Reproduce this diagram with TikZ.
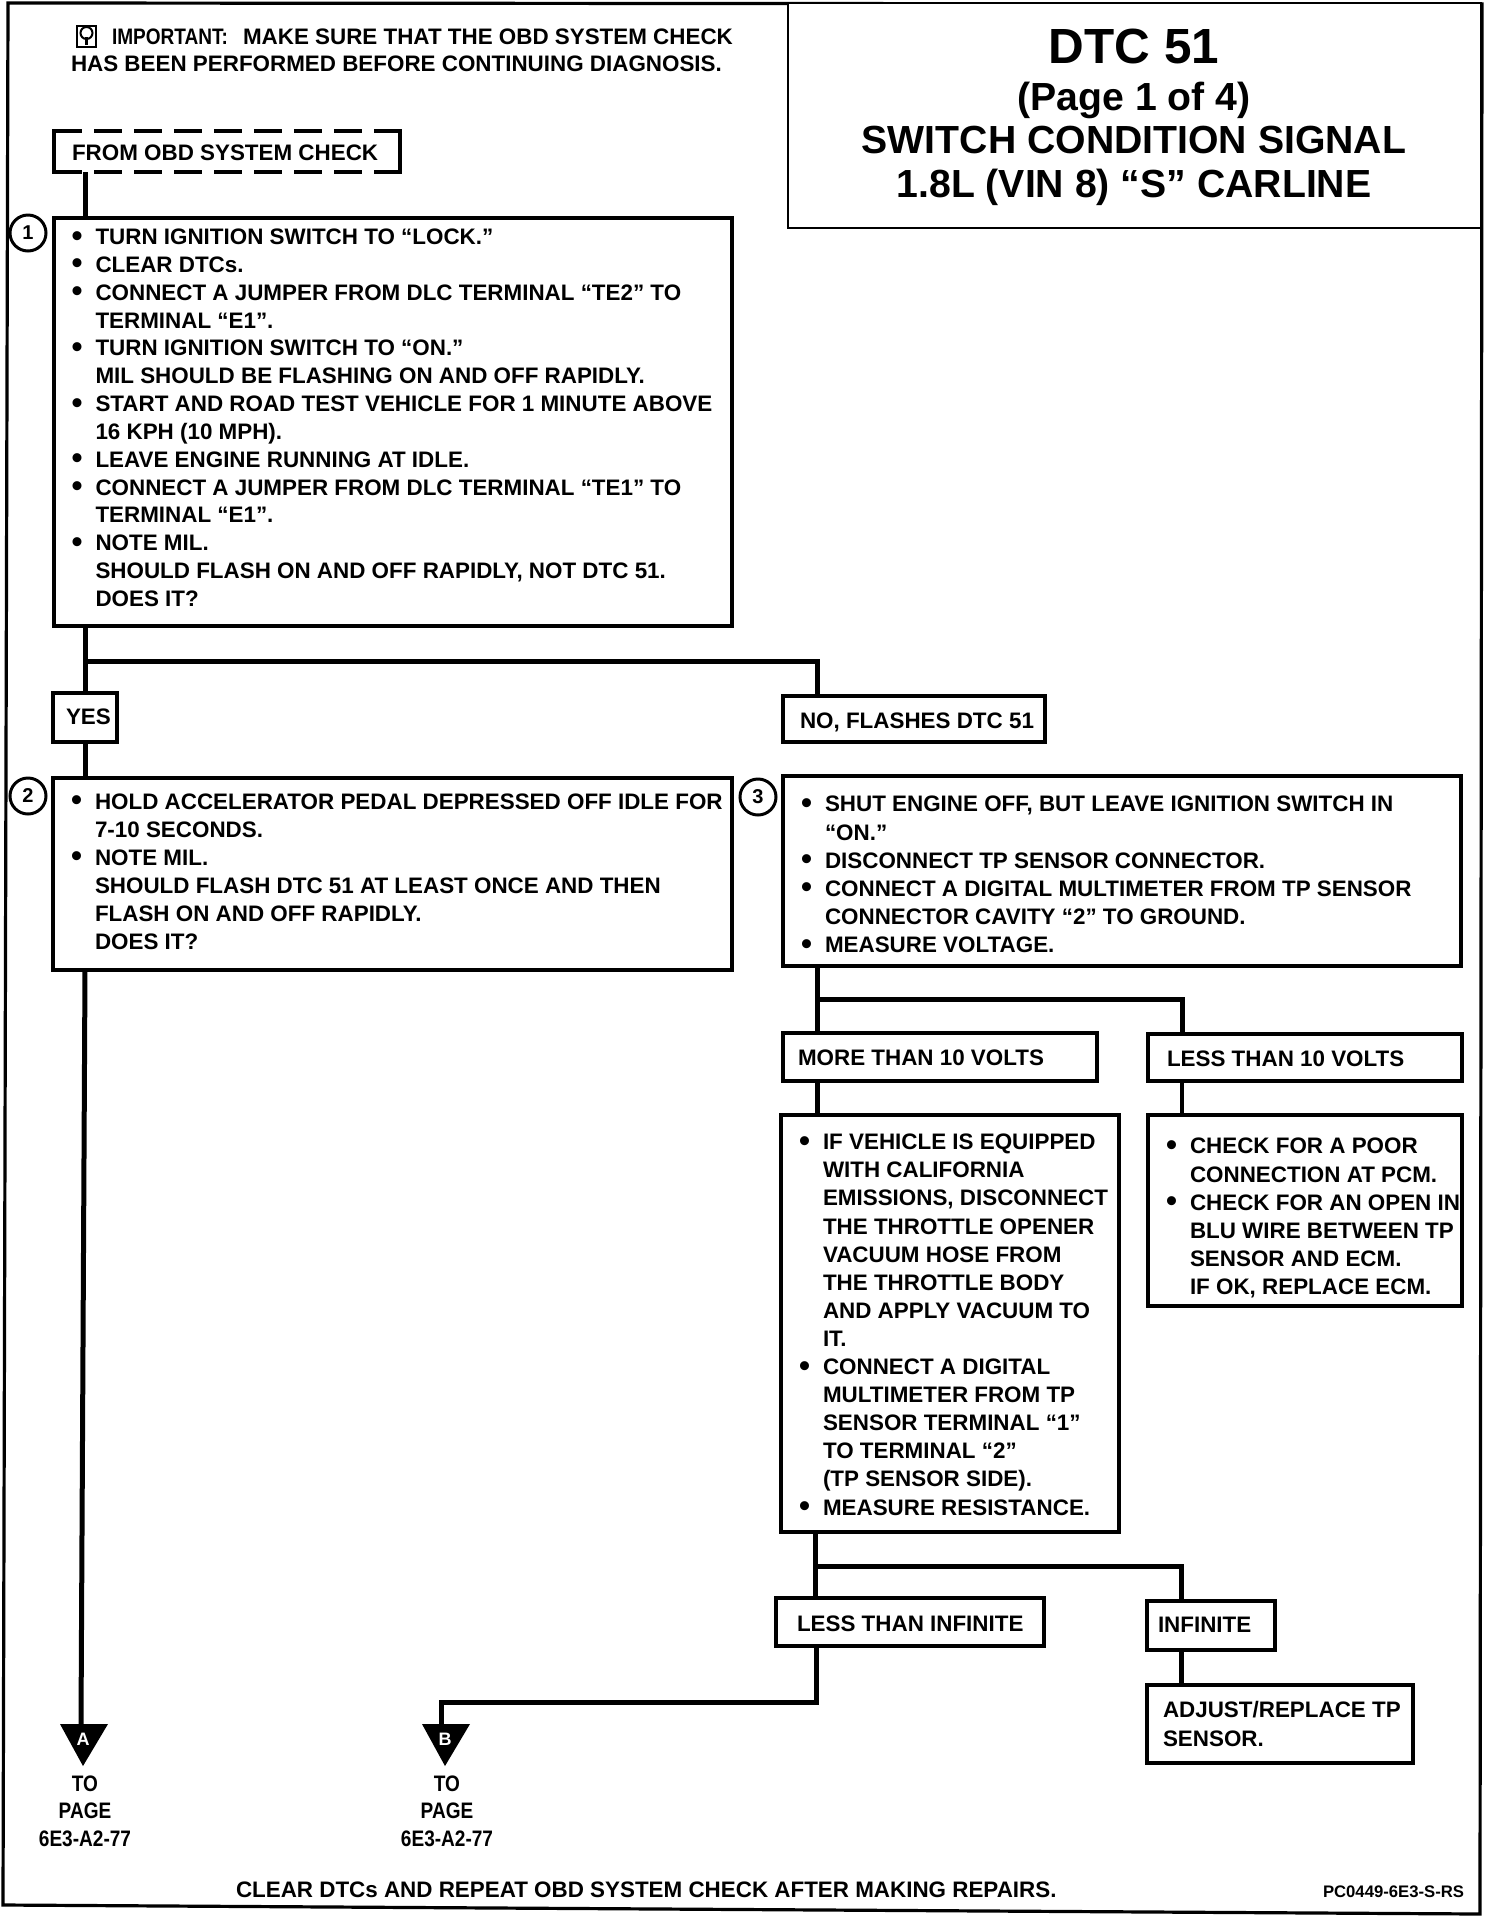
\documentclass[tikz,border=0pt]{standalone}
\usepackage{fontspec}
\setmainfont{Liberation Sans}
\newfontfamily\narrowf[FakeStretch=0.85,BoldFeatures={FakeStretch=0.85}]{Liberation Sans}
\usetikzlibrary{calc}
\tikzset{
  boxn/.style={draw=black,line width=1.6pt,fill=white,rectangle,inner sep=0pt,outer sep=0pt},
  titlebox/.style={boxn,line width=1.2pt},
  dashbox/.style={rectangle,inner sep=0pt,outer sep=0pt},
  dashside/.style={draw=black,line width=1.8pt,dash pattern=on 14pt off 6pt},
  conn/.style={draw=black,line width=2.5pt},
  thinconn/.style={draw=black,line width=2pt},
  txt/.style={anchor=base west,inner sep=0pt,outer sep=0pt,align=left,font=\fontsize{11.2pt}{14.05pt}\selectfont\bfseries},
  tighttxt/.style={txt,font=\fontsize{11.2pt}{13.92pt}\selectfont\bfseries},
  ctxt/.style={anchor=base,inner sep=0pt,outer sep=0pt,align=center,font=\fontsize{11.2pt}{13.92pt}\selectfont\narrowf\bfseries},
  titletxt/.style={anchor=base,inner sep=0pt,outer sep=0pt,font=\fontsize{19.6pt}{24pt}\selectfont\bfseries},
  numc/.style={draw=black,line width=1.5pt,circle,minimum size=18pt,inner sep=0pt,outer sep=0pt,fill=white,font=\fontsize{10pt}{12pt}\selectfont\bfseries},
  tria/.style={fill=black},
  trilab/.style={text=white,inner sep=0pt,outer sep=0pt,font=\fontsize{9pt}{11pt}\selectfont\bfseries}
}
\newcommand{\bx}[6][boxn]{\node[#1,minimum width={(#5-#3)*0.5pt},minimum height={(#6-#4)*0.5pt}] (#2) at ({(#3+#5)/2},{(#4+#6)/2}) {};}
\newcommand{\bl}{\leavevmode\llap{\raisebox{-0.8pt}{\scalebox{1.4}{\textbullet}}\hspace{6.5pt}}}
\begin{document}
\begin{tikzpicture}[x=0.5pt,y=-0.5pt]
\useasboundingbox (0,0) rectangle (1504,1918);
\fill[white] (0,0) rectangle (1504,1918);
% outer frame
\draw[line width=1.6pt,line join=miter] (8,3) -- (1482,4) -- (1480,1914) -- (3,1905) -- cycle;
% vertical guides
\coordinate (t1) at (85,0);
\coordinate (xno) at (817,0);
\coordinate (xless) at (1182,0);
\coordinate (x4) at (815,0);
\coordinate (xinf) at (1181,0);
\coordinate (b1) at (85,661);
\coordinate (b3) at (817,999);
\coordinate (b4) at (815,1566);
\coordinate (triA) at (81,1724);
\coordinate (triB) at (441,1724);
\coordinate (bendL) at (816,1702);
% boxes
\bx[titlebox]{title}{788}{3}{1481}{228}
\bx[dashbox]{start}{54}{131}{400}{172}
\draw[line width=1.8pt,line cap=rect] (start.north west) -- (start.south west);
\draw[line width=1.8pt,line cap=rect] (start.north east) -- (start.south east);
\draw[dashside] (start.north west) -- (start.north east);
\draw[dashside] (start.south west) -- (start.south east);
\bx{box1}{54}{218}{732}{626}
\bx{yes}{53}{693}{117}{742}
\bx{no}{783}{696}{1045}{742}
\bx{box2}{53}{778}{732}{970}
\bx{box3}{783}{776}{1461}{966}
\bx{more}{783}{1033}{1097}{1081}
\bx{less}{1148}{1034}{1462}{1081}
\bx{box4}{781}{1115}{1119}{1532}
\bx{box5}{1148}{1115}{1462}{1306}
\bx{lti}{776}{1598}{1044}{1646}
\bx{inf}{1147}{1601}{1275}{1650}
\bx{adj}{1147}{1685}{1413}{1763}
% connectors
\draw[conn] (start.south -| t1) -- (box1.north -| t1);
\draw[conn] (box1.south -| t1) -- (yes.north -| t1);
\draw[conn] (b1) -| (no.north -| xno);
\draw[conn] (yes.south -| t1) -- (box2.north -| t1);
\draw[conn] (box2.south -| t1) -- (triA);
\draw[conn] (box3.south -| xno) -- (more.north -| xno);
\draw[conn] (b3) -| (less.north -| xless);
\draw[conn] (more.south -| xno) -- (box4.north -| xno);
\draw[thinconn] (less.south -| xless) -- (box5.north -| xless);
\draw[conn] (box4.south -| x4) -- (lti.north -| x4);
\draw[conn] (b4) -| (inf.north -| xinf);
\draw[conn] (lti.south -| bendL) -- (bendL) -| (triB);
\draw[conn] (inf.south -| xinf) -- (adj.north -| xinf);
% triangles
\fill[tria] (60,1724) -- (108,1724) -- (83,1766) -- cycle;
\fill[tria] (422,1724) -- (470,1724) -- (445,1766) -- cycle;
\node[trilab] (la) at (83,1739) {A};
\node[trilab] (lb) at (445,1739) {B};
% step numbers
\node[numc] (n1) at (28,233) {1};
\node[numc] (n2) at (28,796) {2};
\node[numc] (n3) at (758,797) {3};
% important note
\draw[line width=1.2pt] (77,26) rectangle (96,47);
\draw[line width=1pt] (86.5,33) circle (3pt);
\draw[line width=1.4pt] (86.5,37) -- (86.5,45);
\node[txt,font=\fontsize{11.2pt}{13.92pt}\selectfont\narrowf\bfseries] (imp0) at (112,44) {IMPORTANT:};
\node[txt] (imp1) at (243,44) {MAKE SURE THAT THE OBD SYSTEM CHECK};
\node[txt] (imp2) at (71,71) {HAS BEEN PERFORMED BEFORE CONTINUING DIAGNOSIS.};
% title
\node[titletxt,font=\fontsize{24.7pt}{28pt}\selectfont\bfseries] (t0) at (1134,63) {DTC 51};
\node[titletxt] (t2) at (1134,110) {(Page 1 of 4)};
\node[titletxt] (t3) at (1134,153.5) {SWITCH CONDITION SIGNAL};
\node[titletxt] (t4) at (1134,197.5) {1.8L (VIN 8) “S” CARLINE};
% labels
\node[txt] (lstart) at (72,160) {FROM OBD SYSTEM CHECK};
\node[txt] (lyes) at (66,724) {YES};
\node[txt] (lno) at (800,728) {NO, FLASHES DTC 51};
\node[txt] (lmore) at (798,1065) {MORE THAN 10 VOLTS};
\node[txt] (lless) at (1167,1066) {LESS THAN 10 VOLTS};
\node[txt] (llti) at (797,1631) {LESS THAN INFINITE};
\node[txt] (linf) at (1158,1632) {INFINITE};
% step text (nodes anchored on the baseline of their last line)
\node[tighttxt] (s1) at (95.5,606.4) {%
\bl TURN IGNITION SWITCH TO “LOCK.”\\
\bl CLEAR DTCs.\\
\bl CONNECT A JUMPER FROM DLC TERMINAL “TE2” TO\\
TERMINAL “E1”.\\
\bl TURN IGNITION SWITCH TO “ON.”\\
MIL SHOULD BE FLASHING ON AND OFF RAPIDLY.\\
\bl START AND ROAD TEST VEHICLE FOR 1 MINUTE ABOVE\\
16 KPH (10 MPH).\\
\bl LEAVE ENGINE RUNNING AT IDLE.\\
\bl CONNECT A JUMPER FROM DLC TERMINAL “TE1” TO\\
TERMINAL “E1”.\\
\bl NOTE MIL.\\
SHOULD FLASH ON AND OFF RAPIDLY, NOT DTC 51.\\
DOES IT?};
\node[txt] (s2) at (95,949.6) {%
\bl HOLD ACCELERATOR PEDAL DEPRESSED OFF IDLE FOR\\
7-10 SECONDS.\\
\bl NOTE MIL.\\
SHOULD FLASH DTC 51 AT LEAST ONCE AND THEN\\
FLASH ON AND OFF RAPIDLY.\\
DOES IT?};
\node[txt] (s3) at (825,952.4) {%
\bl SHUT ENGINE OFF, BUT LEAVE IGNITION SWITCH IN\\
“ON.”\\
\bl DISCONNECT TP SENSOR CONNECTOR.\\
\bl CONNECT A DIGITAL MULTIMETER FROM TP SENSOR\\
CONNECTOR CAVITY “2” TO GROUND.\\
\bl MEASURE VOLTAGE.};
\node[txt] (s4) at (823,1515) {%
\bl IF VEHICLE IS EQUIPPED\\
WITH CALIFORNIA\\
EMISSIONS, DISCONNECT\\
THE THROTTLE OPENER\\
VACUUM HOSE FROM\\
THE THROTTLE BODY\\
AND APPLY VACUUM TO\\
IT.\\
\bl CONNECT A DIGITAL\\
MULTIMETER FROM TP\\
SENSOR TERMINAL “1”\\
TO TERMINAL “2”\\
(TP SENSOR SIDE).\\
\bl MEASURE RESISTANCE.};
\node[txt] (s5) at (1190,1294.4) {%
\bl CHECK FOR A POOR\\
CONNECTION AT PCM.\\
\bl CHECK FOR AN OPEN IN\\
BLU WIRE BETWEEN TP\\
SENSOR AND ECM.\\
IF OK, REPLACE ECM.};
\node[txt] (s6) at (1163,1746) {ADJUST/REPLACE TP\\SENSOR.};
% page references
\node[ctxt] (pa) at (85,1846.7) {TO\\PAGE\\6E3-A2-77};
\node[ctxt] (pb) at (447,1846.7) {TO\\PAGE\\6E3-A2-77};
% footer
\node[txt] (foot) at (236,1897) {CLEAR DTCs AND REPEAT OBD SYSTEM CHECK AFTER MAKING REPAIRS.};
\node[txt,font=\fontsize{8.35pt}{10pt}\selectfont\bfseries] (code) at (1323,1897) {PC0449-6E3-S-RS};
\end{tikzpicture}
\end{document}
